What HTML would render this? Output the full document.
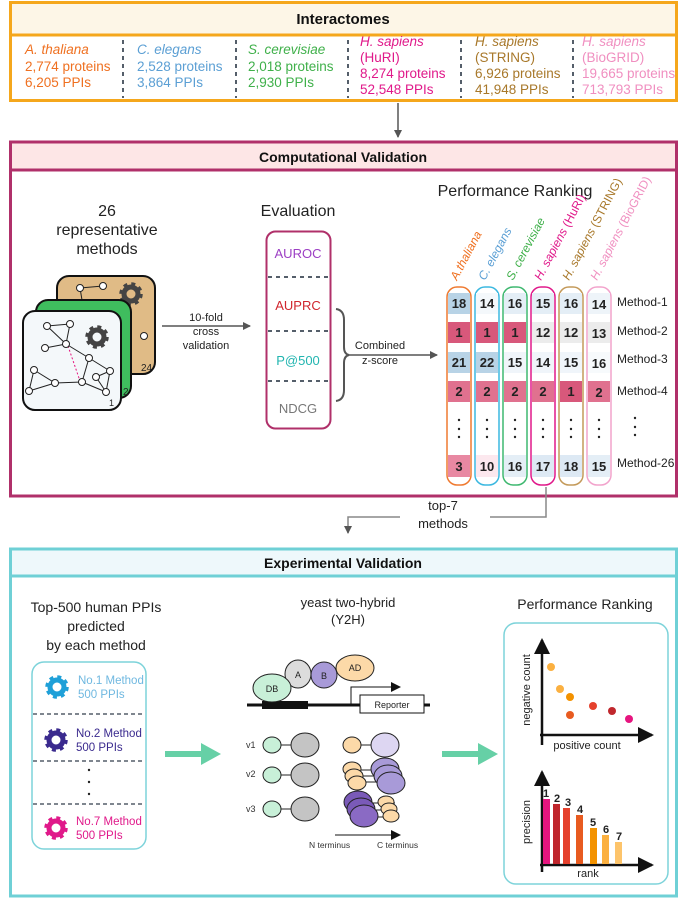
<!DOCTYPE html>
<html><head><meta charset="utf-8"><style>
html,body{margin:0;padding:0;background:#fff}
svg{display:block}
text{font-family:"Liberation Sans",sans-serif}
</style></head><body>
<svg width="685" height="899" viewBox="0 0 685 899" xmlns="http://www.w3.org/2000/svg">
<defs>
<marker id="ah" markerWidth="8" markerHeight="8" refX="7" refY="4" orient="auto" markerUnits="userSpaceOnUse"><path d="M0,0 L8,4 L0,8 z" fill="#555"/></marker>
<marker id="ahk" markerWidth="10" markerHeight="10" refX="9" refY="5" orient="auto" markerUnits="userSpaceOnUse"><path d="M0,0 L10,5 L0,10 z" fill="#111"/></marker>
<marker id="big" markerWidth="16" markerHeight="16" refX="14" refY="8" orient="auto" markerUnits="userSpaceOnUse"><path d="M0,0 L16,8 L0,16 z" fill="#111"/></marker>
<g id="gear"><circle r="7" fill="none" stroke="currentColor" stroke-width="5"/><circle r="10" fill="none" stroke="currentColor" stroke-width="3.5" stroke-dasharray="3.9 3.95"/></g>
</defs>

<!-- Interactomes -->
<rect x="10.5" y="2.5" width="666" height="98" fill="#fff" stroke="#f5a71c" stroke-width="3"/>
<rect x="12" y="4" width="663" height="30" fill="#fdf6e7"/>
<line x1="10" y1="35" x2="677" y2="35" stroke="#f5a71c" stroke-width="3"/>
<text x="343" y="24" font-size="15" font-weight="bold" text-anchor="middle" fill="#111">Interactomes</text>
<g stroke="#555e6a" stroke-width="2" stroke-dasharray="4 4">
<line x1="123" y1="40" x2="123" y2="98"/><line x1="236" y1="40" x2="236" y2="98"/><line x1="348" y1="40" x2="348" y2="98"/><line x1="461" y1="40" x2="461" y2="98"/><line x1="573" y1="40" x2="573" y2="98"/>
</g>
<g font-size="13.5">
<text x="25" y="54" fill="#ef7020" font-style="italic">A. thaliana</text><text x="25" y="71" fill="#ef7020">2,774 proteins</text><text x="25" y="87" fill="#ef7020">6,205 PPIs</text>
<text x="137" y="54" fill="#5b9fd4" font-style="italic">C. elegans</text><text x="137" y="71" fill="#5b9fd4">2,528 proteins</text><text x="137" y="87" fill="#5b9fd4">3,864 PPIs</text>
<text x="248" y="54" fill="#3fb04a" font-style="italic">S. cerevisiae</text><text x="248" y="71" fill="#3fb04a">2,018 proteins</text><text x="248" y="87" fill="#3fb04a">2,930 PPIs</text>
<text x="360" y="46" fill="#e0198a" font-style="italic">H. sapiens</text><text x="360" y="62" fill="#e0198a">(HuRI)</text><text x="360" y="78" fill="#e0198a">8,274 proteins</text><text x="360" y="94" fill="#e0198a">52,548 PPIs</text>
<text x="475" y="46" fill="#a8782a" font-style="italic">H. sapiens</text><text x="475" y="62" fill="#a8782a">(STRING)</text><text x="475" y="78" fill="#a8782a">6,926 proteins</text><text x="475" y="94" fill="#a8782a">41,948 PPIs</text>
<text x="582" y="46" fill="#f08fc0" font-style="italic">H. sapiens</text><text x="582" y="62" fill="#f08fc0">(BioGRID)</text><text x="582" y="78" fill="#f08fc0">19,665 proteins</text><text x="582" y="94" fill="#f08fc0">713,793 PPIs</text>
</g>
<line x1="398" y1="103" x2="398" y2="137" stroke="#555" stroke-width="1.5" marker-end="url(#ah)"/>

<!-- Computational -->
<rect x="10.5" y="142" width="666" height="354" fill="#fff" stroke="#b0306a" stroke-width="3"/>
<rect x="12" y="143.5" width="663" height="26" fill="#fde6e6"/>
<line x1="10" y1="170" x2="677" y2="170" stroke="#b0306a" stroke-width="3"/>
<text x="343" y="162" font-size="14" font-weight="bold" text-anchor="middle" fill="#111">Computational Validation</text>

<g font-size="16" fill="#222" text-anchor="middle">
<text x="107" y="216">26</text><text x="107" y="235">representative</text><text x="107" y="254">methods</text>
<text x="298" y="216">Evaluation</text>
<text x="515" y="196">Performance Ranking</text>
</g>

<!-- cards -->
<rect x="57" y="276" width="98" height="98" rx="12" fill="#e0bb86" stroke="#111" stroke-width="2"/>
<g color="#444" transform="translate(131,294)"><use href="#gear"/></g>
<g stroke="#222" fill="#fff" stroke-width="1"><line x1="80" y1="288" x2="103" y2="286"/><line x1="80" y1="288" x2="82" y2="300"/><circle cx="80" cy="288" r="3.5"/><circle cx="103" cy="286" r="3.5"/><circle cx="144" cy="336" r="3.5"/></g>
<text x="141" y="371" font-size="10" fill="#222">24</text>
<rect x="36" y="300" width="95" height="98" rx="12" fill="#3fbd5e" stroke="#111" stroke-width="2"/>
<text x="123" y="395" font-size="10" fill="#222">2</text>
<rect x="23" y="311" width="98" height="99" rx="12" fill="#f4f8fa" stroke="#111" stroke-width="2"/>
<g color="#444" transform="translate(97,337)"><use href="#gear"/></g>
<g stroke="#222" stroke-width="1">
<line x1="47" y1="326" x2="70" y2="324"/><line x1="47" y1="326" x2="66" y2="344"/><line x1="70" y1="324" x2="66" y2="344"/><line x1="45" y1="348" x2="66" y2="344"/><line x1="66" y1="344" x2="89" y2="358"/><line x1="89" y1="358" x2="82" y2="382"/><line x1="89" y1="358" x2="110" y2="371"/><line x1="34" y1="370" x2="29" y2="391"/><line x1="34" y1="370" x2="55" y2="383"/><line x1="29" y1="391" x2="55" y2="383"/><line x1="55" y1="383" x2="82" y2="382"/><line x1="82" y1="382" x2="106" y2="392"/><line x1="96" y1="377" x2="110" y2="371"/><line x1="110" y1="371" x2="106" y2="392"/><line x1="96" y1="377" x2="106" y2="392"/>
</g>
<line x1="68" y1="346" x2="80" y2="381" stroke="#e6157f" stroke-dasharray="2 2"/>
<g fill="#fff" stroke="#222" stroke-width="1">
<circle cx="47" cy="326" r="3.5"/><circle cx="70" cy="324" r="3.5"/><circle cx="45" cy="348" r="3.5"/><circle cx="66" cy="344" r="3.5"/><circle cx="89" cy="358" r="3.5"/><circle cx="34" cy="370" r="3.5"/><circle cx="55" cy="383" r="3.5"/><circle cx="29" cy="391" r="3.5"/><circle cx="82" cy="382" r="3.5"/><circle cx="96" cy="377" r="3.5"/><circle cx="110" cy="371" r="3.5"/><circle cx="106" cy="392" r="3.5"/>
</g>
<text x="109" y="406" font-size="9" fill="#222">1</text>

<line x1="162" y1="326" x2="250" y2="326" stroke="#555" stroke-width="1.5" marker-end="url(#ah)"/>
<g font-size="11" fill="#222" text-anchor="middle"><text x="206" y="321">10-fold</text><text x="206" y="335">cross</text><text x="206" y="349">validation</text></g>

<rect x="266.5" y="231.5" width="64" height="197" rx="9" fill="#fff" stroke="#b0306a" stroke-width="2"/>
<g stroke="#555e6a" stroke-width="2" stroke-dasharray="4 4"><line x1="268" y1="277" x2="330" y2="277"/><line x1="268" y1="331" x2="330" y2="331"/><line x1="268" y1="381" x2="330" y2="381"/></g>
<g font-size="13" text-anchor="middle"><text x="298" y="258" fill="#9c3fc4">AUROC</text><text x="298" y="310" fill="#d0262e">AUPRC</text><text x="298" y="365" fill="#22b5b0">P@500</text><text x="298" y="413" fill="#777">NDCG</text></g>
<path d="M336,309 Q344,310 344,320 L344,347 Q344,354 349,355 Q344,356 344,363 L344,390 Q344,400 336,401" fill="none" stroke="#555" stroke-width="2"/>
<line x1="349" y1="355" x2="437" y2="355" stroke="#555" stroke-width="1.5" marker-end="url(#ah)"/>
<g font-size="11" fill="#222" text-anchor="middle"><text x="380" y="349">Combined</text><text x="380" y="364">z-score</text></g>

<!-- ranking -->
<g font-size="12">
<text transform="translate(457,281) rotate(-62)" fill="#ef7020" font-style="italic">A.thaliana</text>
<text transform="translate(485,281) rotate(-62)" fill="#5b9fd4" font-style="italic">C. elegans</text>
<text transform="translate(513,281) rotate(-62)" fill="#3fb04a" font-style="italic">S. cerevisiae</text>
<text transform="translate(541,281) rotate(-62)" fill="#e0198a"><tspan font-style="italic">H. sapiens</tspan> (HuRI)</text>
<text transform="translate(569,281) rotate(-62)" fill="#a8782a"><tspan font-style="italic">H. sapiens</tspan> (STRING)</text>
<text transform="translate(597,281) rotate(-62)" fill="#f08fc0"><tspan font-style="italic">H. sapiens</tspan> (BioGRID)</text>
</g>
<g fill="#fff" stroke-width="1.5">
<rect x="447" y="287" width="24" height="198" rx="10" stroke="#ef7a30"/>
<rect x="475" y="287" width="24" height="198" rx="10" stroke="#3bb8e0"/>
<rect x="503" y="287" width="24" height="198" rx="10" stroke="#3fb870"/>
<rect x="531" y="287" width="24" height="198" rx="10" stroke="#e0198a"/>
<rect x="559" y="287" width="24" height="198" rx="10" stroke="#c49a5a"/>
<rect x="587" y="287" width="24" height="198" rx="10" stroke="#f2a3cc"/>
</g>
<g>
<rect x="448" y="293" width="22" height="21" fill="#b8d3e6"/><rect x="476" y="293" width="22" height="21" fill="#f4f8fb"/><rect x="504" y="293" width="22" height="21" fill="#e4eef6"/><rect x="532" y="293" width="22" height="21" fill="#e4eef6"/><rect x="560" y="293" width="22" height="21" fill="#e4eef6"/><rect x="588" y="293" width="22" height="21" fill="#eef4f9"/>
<rect x="448" y="322" width="22" height="21" fill="#d8587b"/><rect x="476" y="322" width="22" height="21" fill="#d8587b"/><rect x="504" y="322" width="22" height="21" fill="#d8587b"/><rect x="532" y="322" width="22" height="21" fill="#ececec"/><rect x="560" y="322" width="22" height="21" fill="#ececec"/><rect x="588" y="322" width="22" height="21" fill="#ececec"/>
<rect x="448" y="352" width="22" height="21" fill="#b8d3e6"/><rect x="476" y="352" width="22" height="21" fill="#b8d3e6"/><rect x="504" y="352" width="22" height="21" fill="#f0f5fa"/><rect x="532" y="352" width="22" height="21" fill="#f0f5fa"/><rect x="560" y="352" width="22" height="21" fill="#f0f5fa"/><rect x="588" y="352" width="22" height="21" fill="#f7fafc"/>
<rect x="448" y="381" width="22" height="21" fill="#e0718f"/><rect x="476" y="381" width="22" height="21" fill="#e0718f"/><rect x="504" y="381" width="22" height="21" fill="#e0718f"/><rect x="532" y="381" width="22" height="21" fill="#e0718f"/><rect x="560" y="381" width="22" height="21" fill="#d8587b"/><rect x="588" y="381" width="22" height="21" fill="#e0718f"/>
<rect x="448" y="455" width="22" height="22" fill="#e888a2"/><rect x="476" y="455" width="22" height="22" fill="#fce8ee"/><rect x="504" y="455" width="22" height="22" fill="#e4eef6"/><rect x="532" y="455" width="22" height="22" fill="#dde9f4"/><rect x="560" y="455" width="22" height="22" fill="#dde9f4"/><rect x="588" y="455" width="22" height="22" fill="#e4eef6"/>
</g>
<g font-size="13" font-weight="bold" fill="#222" text-anchor="middle">
<text x="459" y="308">18</text><text x="487" y="308">14</text><text x="515" y="308">16</text><text x="543" y="308">15</text><text x="571" y="308">16</text><text x="599" y="309">14</text>
<text x="459" y="337">1</text><text x="487" y="337">1</text><text x="515" y="337">1</text><text x="543" y="337">12</text><text x="571" y="337">12</text><text x="599" y="338">13</text>
<text x="459" y="367">21</text><text x="487" y="367">22</text><text x="515" y="367">15</text><text x="543" y="367">14</text><text x="571" y="367">15</text><text x="599" y="368">16</text>
<text x="459" y="396">2</text><text x="487" y="396">2</text><text x="515" y="396">2</text><text x="543" y="396">2</text><text x="571" y="396">1</text><text x="599" y="397">2</text>
<text x="459" y="471">3</text><text x="487" y="471">10</text><text x="515" y="471">16</text><text x="543" y="471">17</text><text x="571" y="471">18</text><text x="599" y="471">15</text>
</g>
<g fill="#222">
<circle cx="459" cy="420" r="1.2"/><circle cx="459" cy="429" r="1.2"/><circle cx="459" cy="437" r="1.2"/>
<circle cx="487" cy="420" r="1.2"/><circle cx="487" cy="429" r="1.2"/><circle cx="487" cy="437" r="1.2"/>
<circle cx="515" cy="420" r="1.2"/><circle cx="515" cy="429" r="1.2"/><circle cx="515" cy="437" r="1.2"/>
<circle cx="543" cy="420" r="1.2"/><circle cx="543" cy="429" r="1.2"/><circle cx="543" cy="437" r="1.2"/>
<circle cx="571" cy="420" r="1.2"/><circle cx="571" cy="429" r="1.2"/><circle cx="571" cy="437" r="1.2"/>
<circle cx="599" cy="420" r="1.2"/><circle cx="599" cy="429" r="1.2"/><circle cx="599" cy="437" r="1.2"/>
<circle cx="635" cy="418" r="1.2"/><circle cx="635" cy="427" r="1.2"/><circle cx="635" cy="435" r="1.2"/>
</g>
<g font-size="12" fill="#222"><text x="617" y="306">Method-1</text><text x="617" y="335">Method-2</text><text x="617" y="363">Method-3</text><text x="617" y="395">Method-4</text><text x="617" y="467">Method-26</text></g>

<!-- top-7 -->
<polyline points="546,487 546,517 348,517 348,533" fill="none" stroke="#888" stroke-width="1.5" marker-end="url(#ah)"/>
<rect x="400" y="498" width="90" height="34" fill="#fff"/>
<g font-size="13" fill="#222" text-anchor="middle"><text x="443" y="510">top-7</text><text x="443" y="528">methods</text></g>

<!-- Experimental -->
<rect x="10.5" y="549" width="666" height="347" fill="#fff" stroke="#6fd0d6" stroke-width="3"/>
<rect x="12" y="550.5" width="663" height="24" fill="#eef8fb"/>
<line x1="10" y1="576" x2="677" y2="576" stroke="#6fd0d6" stroke-width="3"/>
<text x="343" y="568" font-size="14" font-weight="bold" text-anchor="middle" fill="#111">Experimental Validation</text>

<g font-size="14" fill="#222" text-anchor="middle"><text x="96" y="612">Top-500 human PPIs</text><text x="96" y="631">predicted</text><text x="96" y="650">by each method</text></g>
<rect x="32" y="662" width="114" height="187" rx="12" fill="#fff" stroke="#7dd3da" stroke-width="1.5"/>
<g stroke="#555e6a" stroke-width="1.5" stroke-dasharray="4 3"><line x1="33" y1="714" x2="145" y2="714"/><line x1="33" y1="761" x2="145" y2="761"/><line x1="33" y1="804" x2="145" y2="804"/></g>
<g transform="translate(57,687)" color="#1fa0d8"><use href="#gear"/></g>
<g transform="translate(56,740)" color="#3a2a8e"><use href="#gear"/></g>
<g transform="translate(56,828)" color="#e0198a"><use href="#gear"/></g>
<g font-size="11.5"><text x="78" y="684" fill="#6fb8e0">No.1 Method</text><text x="78" y="698" fill="#6fb8e0">500 PPIs</text>
<text x="76" y="737" fill="#3a2a8e">No.2 Method</text><text x="76" y="751" fill="#3a2a8e">500 PPIs</text>
<text x="76" y="825" fill="#e0198a">No.7 Method</text><text x="76" y="839" fill="#e0198a">500 PPIs</text></g>
<g fill="#222"><circle cx="89" cy="770" r="1.2"/><circle cx="89" cy="782" r="1.2"/><circle cx="89" cy="794" r="1.2"/></g>

<path d="M165,751 L201,751 L201,743 L221,754 L201,765 L201,757 L165,757 z" fill="#66d0a6"/>
<path d="M442,751 L478,751 L478,743 L498,754 L478,765 L478,757 L442,757 z" fill="#66d0a6"/>

<g font-size="13" fill="#222" text-anchor="middle"><text x="348" y="607">yeast two-hybrid</text><text x="348" y="624">(Y2H)</text></g>
<line x1="247" y1="705" x2="430" y2="705" stroke="#111" stroke-width="3"/>
<rect x="262" y="701" width="46" height="8" fill="#111"/>
<rect x="360" y="695" width="64" height="18" fill="#fff" stroke="#111"/>
<text x="392" y="708" font-size="9" text-anchor="middle" fill="#222">Reporter</text>
<polyline points="351,704 351,687 400,687" fill="none" stroke="#111" stroke-width="1" marker-end="url(#ahk)"/>
<g stroke="#222" stroke-width="1">
<ellipse cx="355" cy="668" rx="19" ry="13" fill="#fcd9a8"/>
<ellipse cx="298" cy="674" rx="13" ry="14" fill="#dcdcdc"/>
<ellipse cx="324" cy="675" rx="13" ry="13" fill="#a89ad8"/>
<ellipse cx="272" cy="688" rx="19" ry="14" fill="#c8f0d8"/>
</g>
<g font-size="9" fill="#222" text-anchor="middle"><text x="272" y="692">DB</text><text x="298" y="678">A</text><text x="324" y="679">B</text><text x="355" y="671">AD</text></g>
<g font-size="9" fill="#333"><text x="246" y="748">v1</text><text x="246" y="777">v2</text><text x="246" y="812">v3</text></g>
<g stroke="#222" stroke-width="1">
<line x1="272" y1="745" x2="305" y2="745"/><line x1="272" y1="775" x2="305" y2="775"/><line x1="272" y1="809" x2="305" y2="809"/>
<ellipse cx="272" cy="745" rx="9" ry="8" fill="#c8f0d8"/><ellipse cx="305" cy="745" rx="14" ry="12" fill="#c4c4c4"/>
<ellipse cx="272" cy="775" rx="9" ry="8" fill="#c8f0d8"/><ellipse cx="305" cy="775" rx="14" ry="12" fill="#c4c4c4"/>
<ellipse cx="272" cy="809" rx="9" ry="8" fill="#c8f0d8"/><ellipse cx="305" cy="809" rx="14" ry="12" fill="#c4c4c4"/>
<line x1="352" y1="745" x2="385" y2="745"/>
<ellipse cx="352" cy="745" rx="9" ry="8" fill="#fcd9a8"/><ellipse cx="385" cy="745" rx="14" ry="12" fill="#ddd6f2"/>
<line x1="352" y1="770" x2="390" y2="770"/><line x1="352" y1="776" x2="390" y2="776"/><line x1="352" y1="782" x2="390" y2="782"/>
<ellipse cx="352" cy="769" rx="9" ry="7" fill="#fcd9a8"/><ellipse cx="385" cy="769" rx="14" ry="11" fill="#a89ad8"/>
<ellipse cx="354" cy="776" rx="9" ry="7" fill="#fcd9a8"/><ellipse cx="388" cy="776" rx="14" ry="11" fill="#a89ad8"/>
<ellipse cx="357" cy="783" rx="9" ry="7" fill="#fcd9a8"/><ellipse cx="391" cy="783" rx="14" ry="11" fill="#a89ad8"/>
<line x1="358" y1="803" x2="395" y2="803"/><line x1="358" y1="810" x2="395" y2="810"/><line x1="358" y1="817" x2="395" y2="817"/>
<ellipse cx="358" cy="802" rx="14" ry="11" fill="#7a5ab8"/><ellipse cx="386" cy="802" rx="8" ry="6" fill="#fcd9a8"/>
<ellipse cx="361" cy="809" rx="14" ry="11" fill="#7a5ab8"/><ellipse cx="389" cy="809" rx="8" ry="6" fill="#fcd9a8"/>
<ellipse cx="364" cy="816" rx="14" ry="11" fill="#8a6ac4"/><ellipse cx="391" cy="816" rx="8" ry="6" fill="#fcd9a8"/>
</g>
<line x1="335" y1="835" x2="400" y2="835" stroke="#111" stroke-width="1" marker-end="url(#ahk)"/>
<g font-size="8.5" fill="#333"><text x="309" y="848">N terminus</text><text x="377" y="848">C terminus</text></g>

<text x="585" y="609" font-size="14" fill="#222" text-anchor="middle">Performance Ranking</text>
<rect x="504" y="623" width="164" height="261" rx="12" fill="#fff" stroke="#7dd3da" stroke-width="1.5"/>
<line x1="542" y1="745" x2="542" y2="640" stroke="#111" stroke-width="2.5" marker-end="url(#big)"/>
<line x1="540" y1="735" x2="652" y2="735" stroke="#111" stroke-width="2.5" marker-end="url(#big)"/>
<circle cx="551" cy="667" r="4" fill="#fbb040"/><circle cx="560" cy="689" r="4" fill="#fbb040"/><circle cx="570" cy="697" r="4" fill="#f39200"/><circle cx="570" cy="715" r="4" fill="#e85b20"/><circle cx="593" cy="706" r="4" fill="#e5412d"/><circle cx="612" cy="711" r="4" fill="#c0272d"/><circle cx="629" cy="719" r="4" fill="#e6157f"/>
<text x="587" y="749" font-size="11" fill="#222" text-anchor="middle">positive count</text>
<text transform="translate(530,690) rotate(-90)" font-size="11" fill="#222" text-anchor="middle">negative count</text>
<line x1="542" y1="872" x2="542" y2="772" stroke="#111" stroke-width="2.5" marker-end="url(#big)"/>
<line x1="540" y1="865" x2="652" y2="865" stroke="#111" stroke-width="2.5" marker-end="url(#big)"/>
<rect x="543" y="799" width="7" height="65" fill="#e6157f"/><rect x="553" y="804" width="7" height="60" fill="#c0272d"/><rect x="563" y="808" width="7" height="56" fill="#e5412d"/><rect x="576" y="815" width="7" height="49" fill="#e85b20"/><rect x="590" y="828" width="7" height="36" fill="#f39200"/><rect x="602" y="835" width="7" height="29" fill="#fbb040"/><rect x="615" y="842" width="7" height="22" fill="#fdc46b"/>
<g font-size="11" font-weight="bold" fill="#222" text-anchor="middle"><text x="546" y="797">1</text><text x="557" y="802">2</text><text x="568" y="806">3</text><text x="580" y="813">4</text><text x="593" y="826">5</text><text x="606" y="833">6</text><text x="619" y="840">7</text></g>
<text x="588" y="877" font-size="11" fill="#222" text-anchor="middle">rank</text>
<text transform="translate(530,822) rotate(-90)" font-size="11" fill="#222" text-anchor="middle">precision</text>
</svg>
</body></html>
